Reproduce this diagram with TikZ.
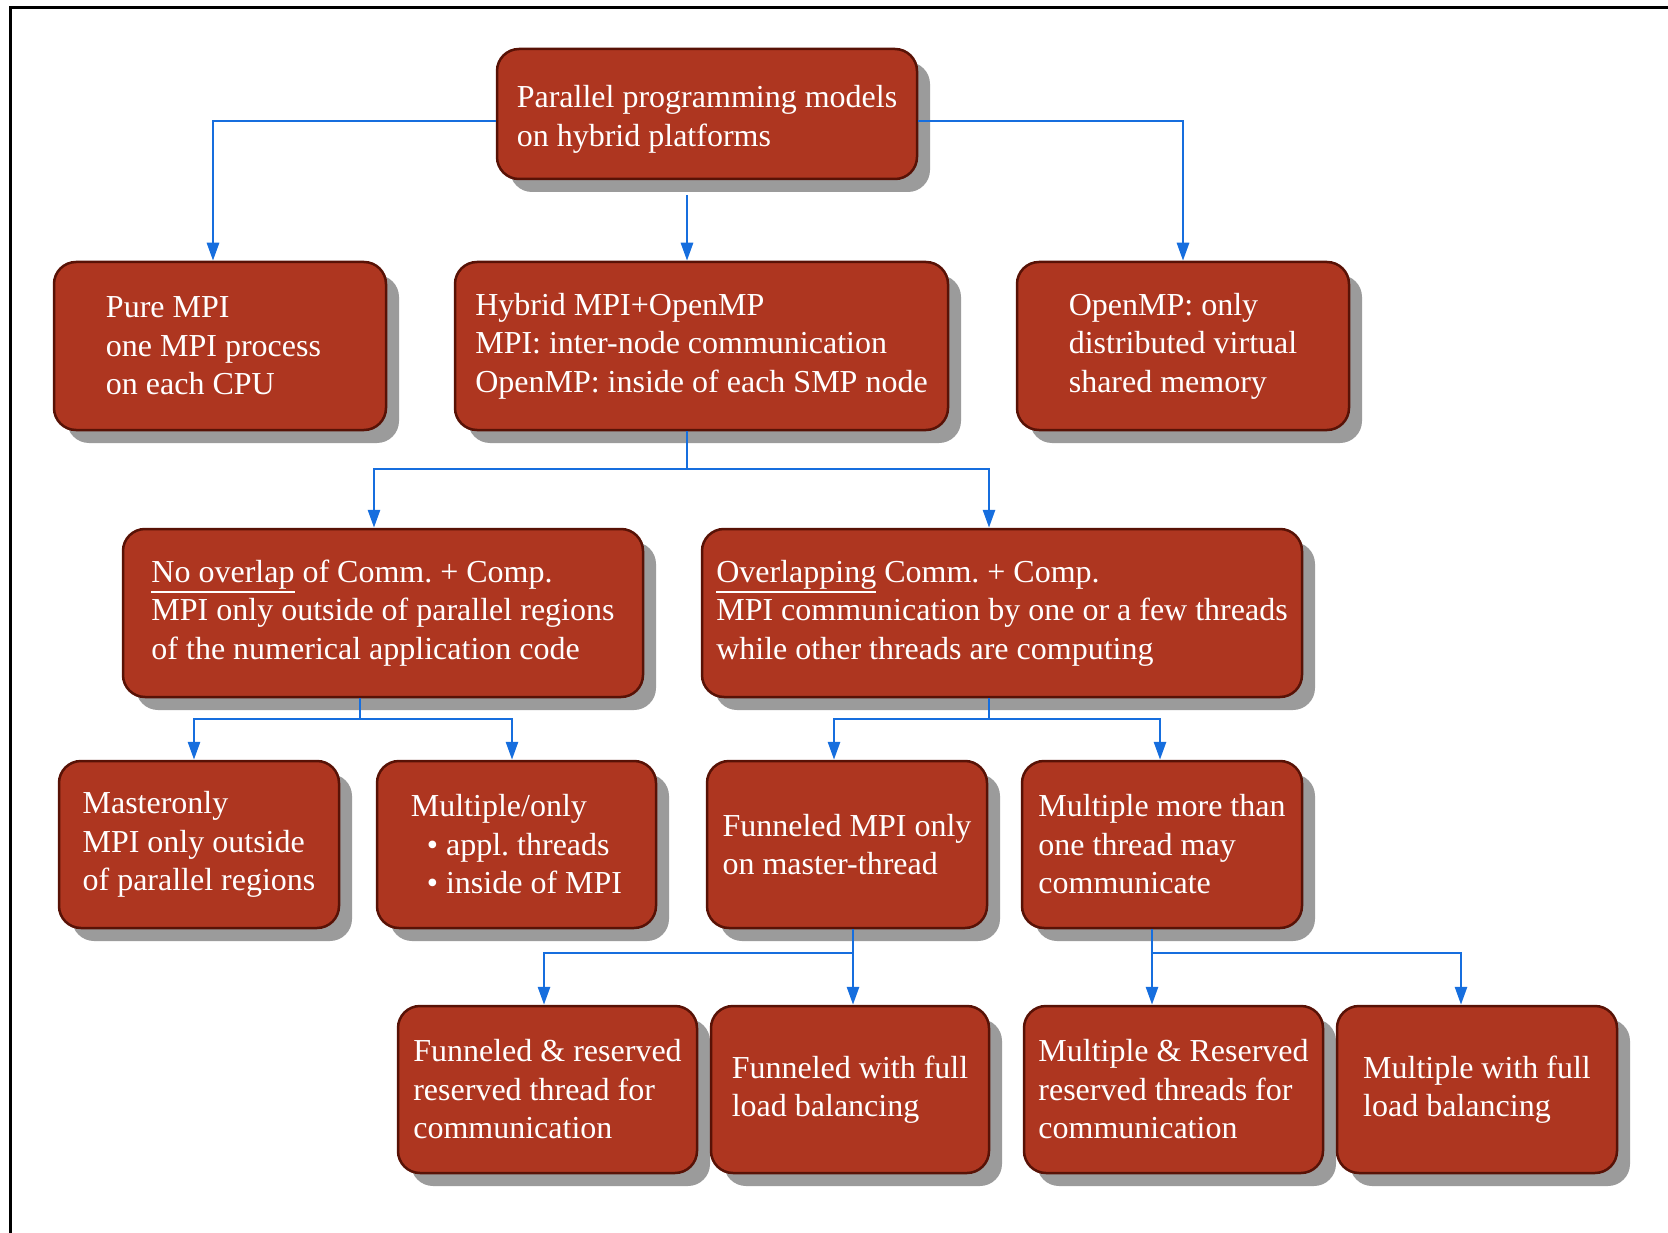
\documentclass[tikz,border=0pt]{standalone}
\usepackage{fontspec}
\setmainfont{Liberation Serif}
\usetikzlibrary{arrows.meta,shadows}

\definecolor{boxfill}{RGB}{174,54,32}
\definecolor{boxborder}{RGB}{88,18,6}
\definecolor{shadowgray}{RGB}{155,155,155}
\definecolor{linkblue}{RGB}{22,110,222}

% underline that sits below the descenders
\newcommand\ulword[1]{\setbox0\hbox{#1}\rlap{\rule[-11pt]{\wd0}{2.4pt}}\box0\relax}
\newcommand\bulletitem{\hspace*{16pt}\textbullet\ }
\frenchspacing

\begin{document}
\begin{tikzpicture}[x=1pt,y=-1pt,
  model/.style={draw=boxborder, line width=2.5pt, fill=boxfill,
    rounded corners=22pt, text=white, align=left, inner sep=0pt,
    font=\fontsize{32}{38.5}\selectfont,
    drop shadow={shadow xshift=13pt, shadow yshift=-13pt,
      fill=shadowgray, opacity=1}},
  conn/.style={draw=linkblue, line width=2.8pt,
    -{Triangle[length=18pt,width=12pt]}},
  trunk/.style={draw=linkblue, line width=2.8pt}]

\useasboundingbox (0,0) rectangle (1668,1233);

% frame
\draw[line width=2.5pt] (10.5,1300) -- (10.5,7.5) -- (1700,7.5);

% top level
\node[model, minimum width=420pt, minimum height=130pt] (top) at (707,114)
  {\rule{0pt}{33pt}Parallel programming models\\on hybrid platforms};

% second row
\node[model, minimum width=332pt, minimum height=168pt] (pure) at (220,346)
  {Pure MPI\\one MPI process\kern13pt\\on each CPU};
\node[model, minimum width=493pt, minimum height=168pt] (hyb) at (701.5,346)
  {Hybrid MPI+OpenMP\\MPI: inter-node communication\\OpenMP: inside of each SMP node};
\node[model, minimum width=332pt, minimum height=168pt] (omp) at (1183,346)
  {OpenMP: only\\distributed virtual\\shared memory};

% third row
\node[model, minimum width=520pt, minimum height=168pt] (nov) at (383,613)
  {\ulword{No overlap} of Comm. + Comp.\\MPI only outside of parallel regions\\of the numerical application code};
\node[model, minimum width=600pt, minimum height=168pt] (ovl) at (1002,613)
  {\ulword{Overlapping} Comm. + Comp.\\MPI communication by one or a few threads\\while other threads are computing};

% fourth row
\node[model, minimum width=280pt, minimum height=167pt] (mst) at (199,844.5)
  {Masteronly\\MPI only outside\\of parallel regions};
\node[model, minimum width=279pt, minimum height=167pt] (mon) at (516.5,844.5)
  {Multiple/only\\\bulletitem appl. threads\\\bulletitem inside of MPI};
\node[model, minimum width=280pt, minimum height=167pt] (fun) at (847,844.5)
  {Funneled MPI only\\on master-thread};
\node[model, minimum width=280pt, minimum height=167pt] (mmt) at (1162,844.5)
  {Multiple more than\\one thread may\\communicate};

% fifth row
\node[model, minimum width=299pt, minimum height=167pt] (fnr) at (547.5,1089.5)
  {Funneled \& reserved\\reserved thread for\\communication};
\node[model, minimum width=278pt, minimum height=167pt] (ffl) at (850,1089.5)
  {Funneled with full\\load balancing};
\node[model, minimum width=299pt, minimum height=167pt] (mnr) at (1173.5,1089.5)
  {Multiple \& Reserved\\reserved threads for\\communication};
\node[model, minimum width=280pt, minimum height=167pt] (mfl) at (1477,1089.5)
  {Multiple with full\\load balancing};

% junction points
\coordinate (t0) at (687,195);
\coordinate (j1) at (687,469);
\coordinate (j2) at (360,719);
\coordinate (j3) at (989,719);
\coordinate (j4) at (853,953);
\coordinate (j5) at (1152,953);

% connectors from the top node
\draw[conn] ([yshift=-7pt]top.west) -| (pure.north -| 213,0);
\draw[conn] ([yshift=-7pt]top.east) -| (omp.north);
\draw[conn] (t0) -- (hyb.north -| t0);

% hybrid branch
\draw[trunk] (hyb.south -| j1) -- (j1);
\draw[conn] (j1) -| (nov.north -| 374,0);
\draw[conn] (j1) -| (ovl.north -| 989,0);

% no-overlap branch
\draw[trunk] (nov.south -| j2) -- (j2);
\draw[conn] (j2) -| (mst.north -| 194,0);
\draw[conn] (j2) -| (mon.north -| 512,0);

% overlapping branch
\draw[trunk] (ovl.south -| j3) -- (j3);
\draw[conn] (j3) -| (fun.north -| 834,0);
\draw[conn] (j3) -| (mmt.north -| 1160,0);

% funneled branch
\draw[conn] (fun.south -| j4) -- (ffl.north -| j4);
\draw[conn] (j4) -| (fnr.north -| 544,0);

% multiple branch
\draw[conn] (mmt.south -| j5) -- (mnr.north -| j5);
\draw[conn] (j5) -| (mfl.north -| 1461,0);

\end{tikzpicture}
\end{document}
